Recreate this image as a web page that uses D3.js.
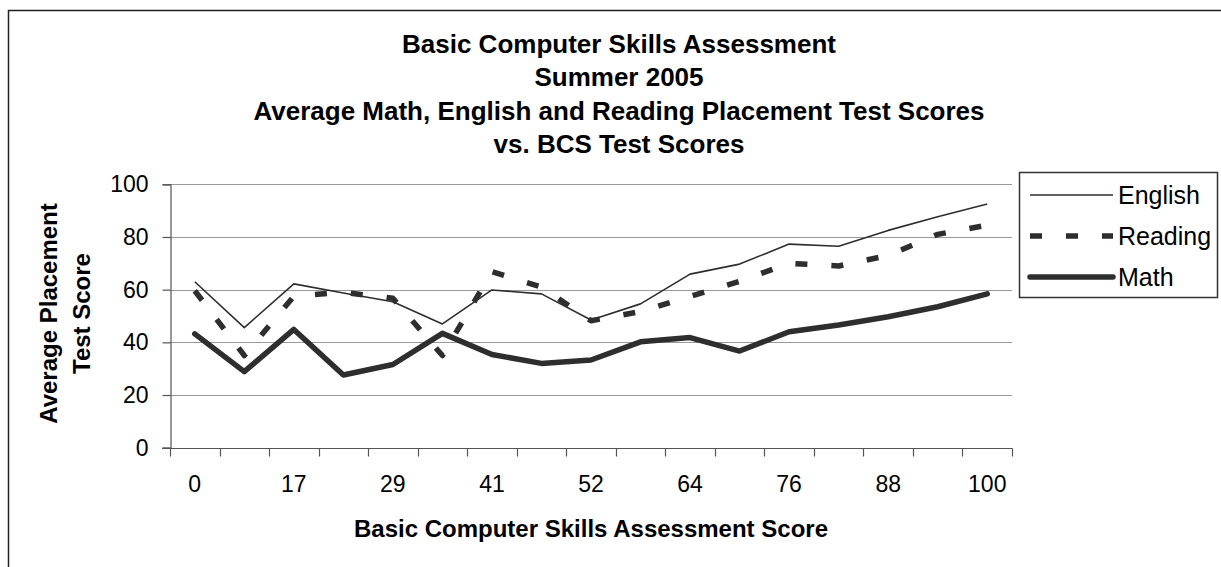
<!DOCTYPE html>
<html>
<head>
<meta charset="utf-8">
<script src="https://cdn.jsdelivr.net/npm/d3@7"></script>
<style>
  html, body { margin: 0; padding: 0; background: #fff; }
  svg { display: block; font-family: "Liberation Sans", Arial, sans-serif; }
</style>
</head>
<body>
<svg id="chart" width="1221" height="567"></svg>
<script>
// BCS score categories (x axis); every other one is labelled
const categories = ["0", "11", "17", "23", "29", "35", "41", "47", "52", "58", "64", "70", "76", "82", "88", "94", "100"];

// Average placement test scores per BCS score
const english = [63, 45.6, 62.2, 58.7, 55.4, 47, 59.9, 58.4, 48.5, 54.6, 65.9, 69.7, 77.3, 76.5, 82.5, 87.7, 92.5];
const reading = [59.6, 35, 57.5, 59, 56.7, 35, 66.8, 61, 48.2, 51.7, 57.4, 63.2, 70, 69, 73, 81, 84.5];
const math    = [43.2, 28.9, 44.9, 27.6, 31.6, 43.4, 35.4, 32, 33.3, 40.2, 41.8, 36.7, 44, 46.6, 49.7, 53.5, 58.4];

const yTicks = [0, 20, 40, 60, 80, 100];

const titleLines = [
  "Basic Computer Skills Assessment",
  "Summer 2005",
  "Average Math, English and Reading Placement Test Scores",
  "vs. BCS Test Scores"
];

const series = [
  { name: "English", values: english, width: 1.6, dash: null, cap: "butt" },
  { name: "Reading", values: reading, width: 5.5, dash: "12,24", cap: "butt" },
  { name: "Math",    values: math,    width: 5.5, dash: null, cap: "round" }
];

const ink = "#2e2e2e";
const svg = d3.select("#chart");

// chart frame (runs past the right and bottom edges)
svg.append("rect")
  .attr("x", 8.5).attr("y", 10.5)
  .attr("width", 1300).attr("height", 700)
  .attr("fill", "#fff").attr("stroke", "#222").attr("stroke-width", 1.5);

const plot = { left: 170, right: 1012, top: 184.3, bottom: 447.7 };

const x = d3.scaleBand().domain(categories).range([plot.left, plot.right]).padding(0);
const y = d3.scaleLinear().domain([0, 100]).range([plot.bottom, plot.top]);

// gridlines
svg.append("g")
  .selectAll("line")
  .data(yTicks.filter(d => d > 0))
  .join("line")
  .attr("x1", plot.left).attr("x2", plot.right)
  .attr("y1", d => Math.round(y(d)) + 0.5).attr("y2", d => Math.round(y(d)) + 0.5)
  .attr("stroke", "#999").attr("stroke-width", 1);

// y axis
const yAxis = svg.append("g")
  .attr("transform", `translate(${plot.left + 0.5},0)`)
  .call(d3.axisLeft(y).tickValues(yTicks).tickSize(8).tickPadding(14));
yAxis.select(".domain").attr("stroke", "#555").attr("stroke-width", 1.2);
yAxis.selectAll(".tick line").attr("stroke", "#555").attr("stroke-width", 1.2);
yAxis.selectAll(".tick text")
  .attr("font-size", 23).attr("fill", "#000")
  .attr("font-family", "'Liberation Sans', Arial, sans-serif");

// x axis: line, ticks on category boundaries, labels on every other category
const xg = svg.append("g");
const yBase = Math.round(y(0)) + 0.5;
xg.append("line")
  .attr("x1", plot.left - 8).attr("x2", x.range()[1] + 0.5)
  .attr("y1", yBase).attr("y2", yBase)
  .attr("stroke", "#555").attr("stroke-width", 1.2);
const boundaries = categories.map(c => x(c)).concat([x.range()[1]]);
xg.selectAll("line.tick")
  .data(boundaries)
  .join("line")
  .attr("class", "tick")
  .attr("x1", d => Math.round(d) + 0.5).attr("x2", d => Math.round(d) + 0.5)
  .attr("y1", yBase).attr("y2", yBase + 8)
  .attr("stroke", "#555").attr("stroke-width", 1.2);
xg.selectAll("text")
  .data(categories.filter((c, i) => i % 2 === 0))
  .join("text")
  .attr("x", d => x(d) + x.bandwidth() / 2)
  .attr("y", y(0) + 44)
  .attr("text-anchor", "middle")
  .attr("font-size", 23)
  .attr("fill", "#000")
  .text(d => d);

// series lines
const line = d3.line()
  .x((d, i) => x(categories[i]) + x.bandwidth() / 2)
  .y(d => y(d));

series.forEach(s => {
  svg.append("path")
    .datum(s.values)
    .attr("d", line)
    .attr("fill", "none")
    .attr("stroke", ink)
    .attr("stroke-width", s.width)
    .attr("stroke-linejoin", "round")
    .attr("stroke-linecap", s.cap)
    .attr("stroke-dasharray", s.dash);
});

// title
svg.append("g")
  .selectAll("text")
  .data(titleLines)
  .join("text")
  .attr("x", 619)
  .attr("y", (d, i) => 53 + i * 33.4)
  .attr("text-anchor", "middle")
  .attr("font-size", 26)
  .attr("font-weight", "bold")
  .attr("fill", "#000")
  .text(d => d);

// y axis title
["Average Placement", "Test Score"].forEach((t, i) => {
  svg.append("text")
    .attr("transform", `translate(${56.5 + i * 33},${313.5}) rotate(-90)`)
    .attr("text-anchor", "middle")
    .attr("font-size", 24)
    .attr("font-weight", "bold")
    .attr("fill", "#000")
    .text(t);
});

// x axis title
svg.append("text")
  .attr("x", (plot.left + plot.right) / 2)
  .attr("y", 536.5)
  .attr("text-anchor", "middle")
  .attr("font-size", 24)
  .attr("font-weight", "bold")
  .attr("fill", "#000")
  .text("Basic Computer Skills Assessment Score");

// legend
const legend = svg.append("g");
legend.append("rect")
  .attr("x", 1019.5).attr("y", 172.5)
  .attr("width", 198).attr("height", 125)
  .attr("fill", "#fff").attr("stroke", "#333").attr("stroke-width", 1.5);
series.forEach((s, i) => {
  const ly = 195 + i * 41;
  legend.append("line")
    .attr("x1", 1030).attr("x2", 1113)
    .attr("y1", ly).attr("y2", ly)
    .attr("stroke", ink)
    .attr("stroke-width", s.width)
    .attr("stroke-linecap", s.cap)
    .attr("stroke-dasharray", s.dash);
  legend.append("text")
    .attr("x", 1118)
    .attr("y", ly)
    .attr("dy", "0.35em")
    .attr("font-size", 25)
    .attr("fill", "#000")
    .text(s.name);
});
</script>
</body>
</html>
